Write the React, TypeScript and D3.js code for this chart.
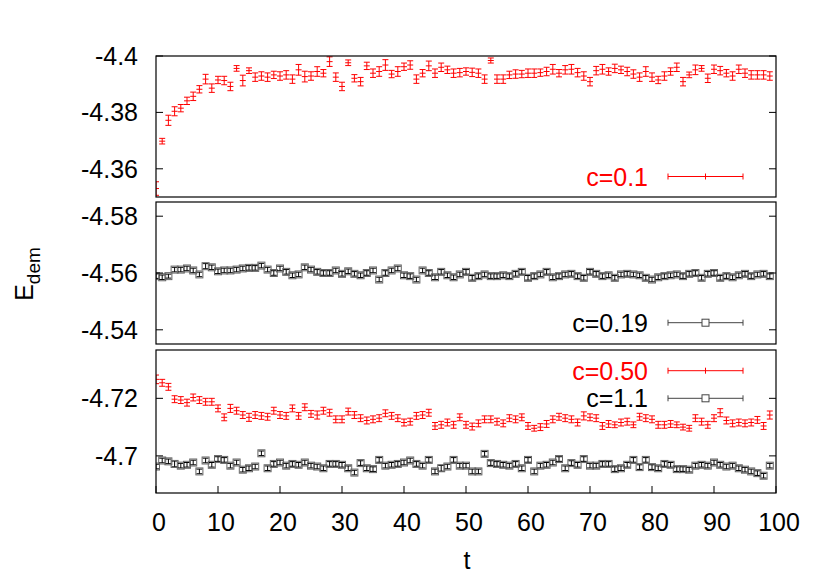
import React from "react";
import * as d3 from "d3";

// ---- data (t = 0..99) ----
const T: number[] = d3.range(0, 100);

const c01: number[] = [
  -4.3530, -4.3698, -4.3772, -4.3804, -4.3815, -4.3841, -4.3857, -4.3882, -4.3918, -4.3886,
  -4.3915, -4.3913, -4.3892, -4.3956, -4.3913, -4.3948, -4.3925, -4.3929, -4.3925, -4.3933,
  -4.3929, -4.3933, -4.3918, -4.3951, -4.3927, -4.3929, -4.3945, -4.3939, -4.3980, -4.3925,
  -4.3892, -4.3976, -4.3921, -4.3909, -4.3965, -4.3939, -4.3945, -4.3968, -4.3936, -4.3945,
  -4.3962, -4.3968, -4.3918, -4.3939, -4.3965, -4.3939, -4.3960, -4.3951, -4.3939, -4.3941,
  -4.3945, -4.3942, -4.3939, -4.3918, -4.3984, -4.3918, -4.3918, -4.3933, -4.3936, -4.3936,
  -4.3939, -4.3939, -4.3941, -4.3945, -4.3953, -4.3939, -4.3951, -4.3953, -4.3941, -4.3929,
  -4.3909, -4.3948, -4.3953, -4.3945, -4.3956, -4.3951, -4.3945, -4.3936, -4.3925, -4.3945,
  -4.3925, -4.3915, -4.3929, -4.3945, -4.3960, -4.3909, -4.3933, -4.3951, -4.3956, -4.3921,
  -4.3953, -4.3948, -4.3939, -4.3929, -4.3953, -4.3939, -4.3933, -4.3933, -4.3933, -4.3929,
];
const c01Err: number[] = [
  0.0024, 0.0010, 0.0018, 0.0016, 0.0013, 0.0013, 0.0015, 0.0013, 0.0017, 0.0015,
  0.0013, 0.0015, 0.0015, 0.0010, 0.0019, 0.0010, 0.0015, 0.0015, 0.0015, 0.0013,
  0.0015, 0.0015, 0.0015, 0.0019, 0.0019, 0.0015, 0.0017, 0.0013, 0.0017, 0.0015,
  0.0015, 0.0010, 0.0013, 0.0015, 0.0013, 0.0015, 0.0017, 0.0019, 0.0013, 0.0017,
  0.0013, 0.0015, 0.0015, 0.0013, 0.0017, 0.0015, 0.0015, 0.0013, 0.0015, 0.0015,
  0.0013, 0.0015, 0.0015, 0.0015, 0.0009, 0.0015, 0.0015, 0.0013, 0.0015, 0.0013,
  0.0015, 0.0015, 0.0013, 0.0015, 0.0017, 0.0013, 0.0015, 0.0017, 0.0015, 0.0015,
  0.0015, 0.0015, 0.0017, 0.0013, 0.0015, 0.0013, 0.0015, 0.0015, 0.0015, 0.0017,
  0.0015, 0.0013, 0.0015, 0.0013, 0.0015, 0.0015, 0.0010, 0.0017, 0.0010, 0.0015,
  0.0015, 0.0015, 0.0013, 0.0015, 0.0015, 0.0015, 0.0015, 0.0015, 0.0015, 0.0015,
];

const c019: number[] = [
  -4.5589, -4.5585, -4.5589, -4.5612, -4.5612, -4.5616, -4.5609, -4.5595, -4.5624, -4.5620,
  -4.5606, -4.5609, -4.5609, -4.5612, -4.5616, -4.5618, -4.5618, -4.5626, -4.5612, -4.5600,
  -4.5616, -4.5604, -4.5592, -4.5595, -4.5620, -4.5612, -4.5604, -4.5600, -4.5600, -4.5609,
  -4.5597, -4.5606, -4.5597, -4.5592, -4.5600, -4.5609, -4.5577, -4.5600, -4.5609, -4.5616,
  -4.5592, -4.5589, -4.5577, -4.5609, -4.5600, -4.5585, -4.5604, -4.5592, -4.5585, -4.5595,
  -4.5604, -4.5583, -4.5589, -4.5595, -4.5589, -4.5589, -4.5592, -4.5589, -4.5597, -4.5604,
  -4.5583, -4.5589, -4.5595, -4.5604, -4.5585, -4.5589, -4.5595, -4.5597, -4.5589, -4.5583,
  -4.5604, -4.5597, -4.5589, -4.5592, -4.5583, -4.5595, -4.5597, -4.5595, -4.5592, -4.5583,
  -4.5577, -4.5585, -4.5589, -4.5592, -4.5595, -4.5589, -4.5597, -4.5600, -4.5583, -4.5597,
  -4.5600, -4.5583, -4.5589, -4.5585, -4.5592, -4.5597, -4.5589, -4.5595, -4.5597, -4.5589,
];
const c019Err: number[] = [
  0.0008, 0.0008, 0.0007, 0.0008, 0.0008, 0.0008, 0.0008, 0.0008, 0.0009, 0.0008,
  0.0008, 0.0008, 0.0008, 0.0008, 0.0008, 0.0008, 0.0008, 0.0008, 0.0008, 0.0008,
  0.0008, 0.0008, 0.0008, 0.0008, 0.0008, 0.0008, 0.0008, 0.0008, 0.0008, 0.0008,
  0.0008, 0.0008, 0.0008, 0.0008, 0.0008, 0.0008, 0.0008, 0.0008, 0.0008, 0.0008,
  0.0008, 0.0008, 0.0008, 0.0008, 0.0008, 0.0008, 0.0008, 0.0008, 0.0008, 0.0008,
  0.0008, 0.0008, 0.0008, 0.0008, 0.0008, 0.0008, 0.0008, 0.0008, 0.0008, 0.0008,
  0.0008, 0.0008, 0.0008, 0.0008, 0.0008, 0.0008, 0.0008, 0.0008, 0.0008, 0.0008,
  0.0008, 0.0008, 0.0008, 0.0008, 0.0008, 0.0008, 0.0008, 0.0008, 0.0008, 0.0008,
  0.0008, 0.0008, 0.0008, 0.0008, 0.0008, 0.0008, 0.0008, 0.0008, 0.0008, 0.0008,
  0.0008, 0.0008, 0.0008, 0.0008, 0.0008, 0.0008, 0.0008, 0.0008, 0.0008, 0.0008,
];

const c050: number[] = [
  -4.7266, -4.7254, -4.7240, -4.7197, -4.7194, -4.7185, -4.7203, -4.7194, -4.7188, -4.7188,
  -4.7165, -4.7134, -4.7165, -4.7157, -4.7142, -4.7134, -4.7142, -4.7139, -4.7136, -4.7157,
  -4.7142, -4.7139, -4.7165, -4.7139, -4.7169, -4.7146, -4.7142, -4.7157, -4.7150, -4.7127,
  -4.7127, -4.7154, -4.7142, -4.7131, -4.7123, -4.7127, -4.7131, -4.7148, -4.7139, -4.7131,
  -4.7116, -4.7119, -4.7139, -4.7142, -4.7150, -4.7104, -4.7108, -4.7116, -4.7108, -4.7134,
  -4.7108, -4.7102, -4.7113, -4.7127, -4.7127, -4.7119, -4.7113, -4.7131, -4.7127, -4.7134,
  -4.7104, -4.7096, -4.7100, -4.7111, -4.7127, -4.7136, -4.7131, -4.7127, -4.7116, -4.7139,
  -4.7134, -4.7131, -4.7104, -4.7111, -4.7108, -4.7116, -4.7119, -4.7108, -4.7136, -4.7131,
  -4.7127, -4.7108, -4.7108, -4.7111, -4.7108, -4.7100, -4.7096, -4.7131, -4.7119, -4.7108,
  -4.7131, -4.7150, -4.7123, -4.7113, -4.7116, -4.7113, -4.7116, -4.7125, -4.7104, -4.7142,
];
const c050Err: number[] = [
  0.0015, 0.0012, 0.0012, 0.0012, 0.0012, 0.0012, 0.0012, 0.0012, 0.0012, 0.0012,
  0.0012, 0.0012, 0.0014, 0.0012, 0.0012, 0.0014, 0.0012, 0.0012, 0.0012, 0.0012,
  0.0012, 0.0012, 0.0012, 0.0012, 0.0012, 0.0012, 0.0014, 0.0012, 0.0012, 0.0012,
  0.0012, 0.0012, 0.0012, 0.0012, 0.0012, 0.0012, 0.0012, 0.0012, 0.0012, 0.0012,
  0.0012, 0.0012, 0.0012, 0.0012, 0.0012, 0.0012, 0.0012, 0.0012, 0.0012, 0.0012,
  0.0012, 0.0012, 0.0012, 0.0012, 0.0012, 0.0012, 0.0012, 0.0012, 0.0012, 0.0012,
  0.0012, 0.0010, 0.0012, 0.0012, 0.0012, 0.0012, 0.0012, 0.0012, 0.0012, 0.0014,
  0.0012, 0.0012, 0.0012, 0.0012, 0.0010, 0.0012, 0.0012, 0.0010, 0.0012, 0.0012,
  0.0012, 0.0012, 0.0012, 0.0012, 0.0010, 0.0010, 0.0010, 0.0012, 0.0012, 0.0012,
  0.0012, 0.0014, 0.0012, 0.0012, 0.0012, 0.0012, 0.0012, 0.0012, 0.0012, 0.0014,
];

const c11: number[] = [
  -4.6963, -4.6984, -4.6981, -4.6972, -4.6966, -4.6969, -4.6977, -4.6946, -4.6984, -4.6969,
  -4.6989, -4.6986, -4.6966, -4.6977, -4.6952, -4.6957, -4.6963, -4.7009, -4.6957, -4.6972,
  -4.6977, -4.6966, -4.6972, -4.6969, -4.6977, -4.6966, -4.6963, -4.6957, -4.6972, -4.6972,
  -4.6969, -4.6957, -4.6942, -4.6975, -4.6957, -4.6954, -4.6986, -4.6966, -4.6969, -4.6972,
  -4.6977, -4.6984, -4.6972, -4.6966, -4.6986, -4.6946, -4.6957, -4.6963, -4.6986, -4.6966,
  -4.6966, -4.6946, -4.6946, -4.7007, -4.6975, -4.6972, -4.6969, -4.6966, -4.6972, -4.6957,
  -4.6986, -4.6946, -4.6966, -4.6969, -4.6977, -4.6989, -4.6957, -4.6975, -4.6969, -4.6989,
  -4.6966, -4.6966, -4.6972, -4.6972, -4.6954, -4.6957, -4.6969, -4.6986, -4.6961, -4.6986,
  -4.6961, -4.6957, -4.6972, -4.6969, -4.6954, -4.6954, -4.6952, -4.6966, -4.6969, -4.6966,
  -4.6977, -4.6969, -4.6963, -4.6966, -4.6957, -4.6952, -4.6946, -4.6940, -4.6931, -4.6966,
];
const c11Err: number[] = [
  0.0008, 0.0008, 0.0008, 0.0010, 0.0008, 0.0008, 0.0008, 0.0008, 0.0008, 0.0008,
  0.0008, 0.0008, 0.0008, 0.0008, 0.0008, 0.0008, 0.0008, 0.0008, 0.0008, 0.0008,
  0.0008, 0.0008, 0.0008, 0.0008, 0.0008, 0.0008, 0.0008, 0.0008, 0.0008, 0.0008,
  0.0008, 0.0008, 0.0008, 0.0008, 0.0008, 0.0008, 0.0008, 0.0008, 0.0008, 0.0008,
  0.0008, 0.0008, 0.0008, 0.0008, 0.0008, 0.0008, 0.0010, 0.0008, 0.0008, 0.0008,
  0.0008, 0.0008, 0.0008, 0.0008, 0.0008, 0.0008, 0.0008, 0.0008, 0.0008, 0.0008,
  0.0008, 0.0008, 0.0008, 0.0008, 0.0008, 0.0008, 0.0008, 0.0008, 0.0008, 0.0008,
  0.0008, 0.0008, 0.0008, 0.0008, 0.0008, 0.0008, 0.0008, 0.0008, 0.0008, 0.0008,
  0.0008, 0.0008, 0.0008, 0.0008, 0.0008, 0.0008, 0.0008, 0.0008, 0.0008, 0.0008,
  0.0008, 0.0008, 0.0008, 0.0008, 0.0008, 0.0008, 0.0008, 0.0008, 0.0008, 0.0008,
];

const xTicks: number[] = [0, 10, 20, 30, 40, 50, 60, 70, 80, 90, 100];
const p1Ticks: number[] = [-4.4, -4.38, -4.36];
const p2Ticks: number[] = [-4.58, -4.56, -4.54];
const p3Ticks: number[] = [-4.72, -4.7];

// ---- layout ----
const W = 822;
const H = 576;
const LEFT = 156;
const RIGHT = 776;
const FONT = "'Liberation Sans', Arial, Helvetica, sans-serif";
const FS = 25;
const RED = "#ff0000";

const x = d3.scaleLinear().domain([0, 100]).range([LEFT, RIGHT]);

type Series = { vals: number[]; err: number[]; kind: "plus" | "square"; color: string; label: string; labelColor: string };
type Panel = { top: number; bottom: number; domain: [number, number]; ticks: number[]; series: Series[]; legendY: number[] };

const panels: Panel[] = [
  {
    top: 56, bottom: 197, domain: [-4.4, -4.35], ticks: p1Ticks,
    series: [{ vals: c01, err: c01Err, kind: "plus", color: RED, label: "c=0.1", labelColor: RED }],
    legendY: [176.5],
  },
  {
    top: 202, bottom: 344, domain: [-4.585, -4.535], ticks: p2Ticks,
    series: [{ vals: c019, err: c019Err, kind: "square", color: "#000", label: "c=0.19", labelColor: "#000" }],
    legendY: [322.7],
  },
  {
    top: 350, bottom: 493, domain: [-4.7368, -4.6871], ticks: p3Ticks,
    series: [
      { vals: c050, err: c050Err, kind: "plus", color: RED, label: "c=0.50", labelColor: RED },
      { vals: c11, err: c11Err, kind: "square", color: "#000", label: "c=1.1", labelColor: "#000" },
    ],
    legendY: [370.7, 398.3],
  },
];

const CAP = 3;
const SQ = 7;

function Marker({ cx, cy, yLo, yHi, s }: { cx: number; cy: number; yLo: number; yHi: number; s: Series }) {
  const col = s.color;
  return (
    <g>
      <line x1={cx} x2={cx} y1={yLo} y2={yHi} stroke={col} strokeWidth={1} />
      <line x1={cx - CAP} x2={cx + CAP} y1={yLo} y2={yLo} stroke={col} strokeWidth={1} />
      <line x1={cx - CAP} x2={cx + CAP} y1={yHi} y2={yHi} stroke={col} strokeWidth={1} />
      {s.kind === "plus" ? (
        <line x1={cx - CAP} x2={cx + CAP} y1={cy} y2={cy} stroke={col} strokeWidth={1} />
      ) : (
        <rect x={cx - SQ / 2} y={cy - SQ / 2} width={SQ} height={SQ} fill="none" stroke="#666" strokeWidth={1} />
      )}
    </g>
  );
}

function PanelView({ p, showX }: { p: Panel; showX: boolean }) {
  const y = d3.scaleLinear().domain(p.domain).range([p.top, p.bottom]);
  const clipId = `clip${p.top}`;
  return (
    <g>
      <defs>
        <clipPath id={clipId}>
          <rect x={LEFT} y={p.top} width={RIGHT - LEFT} height={p.bottom - p.top} />
        </clipPath>
      </defs>
      <g clipPath={`url(#${clipId})`}>
        {p.series.map((s, si) => (
          <g key={si}>
            {T.map((t, i) => (
              <Marker key={i} cx={x(t)} cy={y(s.vals[i])} yLo={y(s.vals[i] - s.err[i])} yHi={y(s.vals[i] + s.err[i])} s={s} />
            ))}
          </g>
        ))}
      </g>
      {p.ticks.map((v) => (
        <g key={v}>
          <line x1={LEFT} x2={LEFT + 7} y1={y(v)} y2={y(v)} stroke="#000" strokeWidth={1} />
          <line x1={RIGHT - 7} x2={RIGHT} y1={y(v)} y2={y(v)} stroke="#000" strokeWidth={1} />
          <text x={138} y={y(v) + 9} textAnchor="end" fontFamily={FONT} fontSize={FS} fill="#000">
            {String(v)}
          </text>
        </g>
      ))}
      {showX &&
        xTicks.map((v) => (
          <g key={v}>
            <line x1={x(v)} x2={x(v)} y1={p.bottom} y2={p.bottom - 7} stroke="#000" strokeWidth={1} />
            <text x={x(v) + 3} y={531} textAnchor="middle" fontFamily={FONT} fontSize={FS} fill="#000">
              {v}
            </text>
          </g>
        ))}
      {p.series.map((s, si) => {
        const ly = p.legendY[si];
        const x1 = 668, x2 = 743, xm = (x1 + x2) / 2;
        const lc = s.kind === "plus" ? RED : "#444";
        return (
          <g key={"lg" + si}>
            <text x={648} y={ly + 9} textAnchor="end" fontFamily={FONT} fontSize={FS} fill={s.labelColor}>
              {s.label}
            </text>
            <line x1={x1} x2={x2} y1={ly} y2={ly} stroke={lc} strokeWidth={1} />
            <line x1={x1} x2={x1} y1={ly - 3} y2={ly + 3} stroke={lc} strokeWidth={1} />
            <line x1={x2} x2={x2} y1={ly - 3} y2={ly + 3} stroke={lc} strokeWidth={1} />
            {s.kind === "plus" ? (
              <line x1={xm} x2={xm} y1={ly - 3} y2={ly + 3} stroke={RED} strokeWidth={1} />
            ) : (
              <rect x={xm - SQ / 2} y={ly - SQ / 2} width={SQ} height={SQ} fill="#fff" stroke="#444" strokeWidth={1} />
            )}
          </g>
        );
      })}
      <rect x={LEFT} y={p.top} width={RIGHT - LEFT} height={p.bottom - p.top} fill="none" stroke="#000" strokeWidth={1.2} />
    </g>
  );
}

export default function App() {
  return (
    <svg width={W} height={H} viewBox={`0 0 ${W} ${H}`} style={{ position: "absolute", left: 0, top: 0, background: "#fff" }}>
      <rect x={0} y={0} width={W} height={H} fill="#fff" />
      {panels.map((p, i) => (
        <PanelView key={i} p={p} showX={i === panels.length - 1} />
      ))}
      <text x={467} y={569} textAnchor="middle" fontFamily={FONT} fontSize={FS} fill="#000">
        t
      </text>
      <text transform="translate(33,274) rotate(-90)" textAnchor="middle" fontFamily={FONT} fontSize={FS} fill="#000">
        E<tspan fontSize={19} dy={7}>dem</tspan>
      </text>
    </svg>
  );
}
